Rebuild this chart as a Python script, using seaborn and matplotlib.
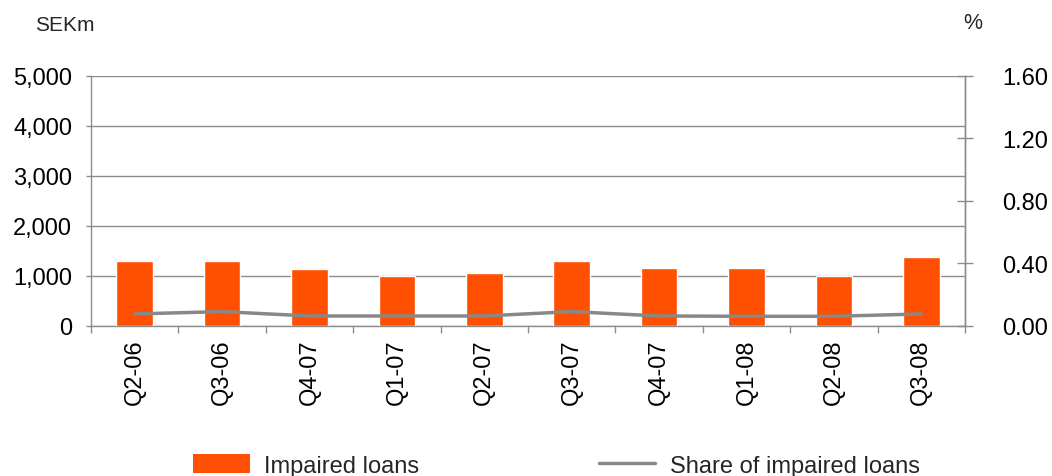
import numpy as np
import pandas as pd
import seaborn as sns
import matplotlib.pyplot as plt
from matplotlib.ticker import FuncFormatter, MultipleLocator, FixedLocator
from matplotlib.patches import Patch
from matplotlib.lines import Line2D

quarters = ["Q2-06", "Q3-06", "Q4-07", "Q1-07", "Q2-07",
            "Q3-07", "Q4-07", "Q1-08", "Q2-08", "Q3-08"]
impaired_loans = [1300, 1300, 1140, 1000, 1060, 1300, 1160, 1160, 1000, 1380]
share_impaired = [0.077, 0.092, 0.064, 0.064, 0.064, 0.092, 0.064, 0.062, 0.062, 0.077]

BAR_COLOR = "#FF4F00"
LINE_COLOR = "#888888"
AXIS_COLOR = "#8c8c8c"

sns.set_theme(style="white")
plt.rcParams["font.family"] = ["Liberation Sans", "DejaVu Sans"]

# quarter labels repeat (Q4-07 twice), so index positions are the categories
df = pd.DataFrame({
    "pos": np.arange(len(quarters)),
    "impaired": impaired_loans,
    "share": share_impaired,
})

fig = plt.figure(figsize=(10.52, 4.77), dpi=100)
ax = fig.add_axes([0.0865, 0.3145, 0.8308, 0.5241])

sns.barplot(data=df, x="pos", y="impaired", color=BAR_COLOR, width=0.42,
            saturation=1, ax=ax, zorder=3)
ax.set_xlim(-0.5, len(quarters) - 0.5)
ax.set_ylim(0, 5000)
ax.yaxis.set_major_locator(MultipleLocator(1000))
ax.yaxis.set_major_formatter(FuncFormatter(lambda v, p: f"{v:,.0f}"))
ax.grid(axis="y", color=AXIS_COLOR, linewidth=1, zorder=0)
ax.set_axisbelow(True)
ax.set_xlabel("")
ax.set_ylabel("")

ax.set_xticks(df["pos"])
ax.set_xticklabels(quarters, rotation=90)
ax.xaxis.set_minor_locator(FixedLocator(np.arange(len(quarters) + 1) - 0.5))
ax.tick_params(axis="x", which="major", length=0, pad=9, labelsize=17,
               colors="black")
ax.tick_params(axis="x", which="minor", length=5, width=1, color=AXIS_COLOR,
               bottom=True)
ax.tick_params(axis="y", left=True, length=3.6, width=1, color=AXIS_COLOR,
               pad=10, labelsize=17, labelcolor="black")

for side in ["left", "bottom", "right"]:
    ax.spines[side].set_color(AXIS_COLOR)
    ax.spines[side].set_linewidth(1)
ax.spines["top"].set_visible(False)

ax2 = ax.twinx()
sns.lineplot(data=df, x="pos", y="share", color=LINE_COLOR, linewidth=2.5,
             ax=ax2, zorder=4)
ax2.set_ylim(0, 1.6)
ax2.yaxis.set_major_locator(MultipleLocator(0.4))
ax2.yaxis.set_major_formatter(FuncFormatter(lambda v, p: f"{v:.2f}"))
ax2.tick_params(axis="y", right=True, direction="inout", length=11.5, width=1,
                color=AXIS_COLOR, pad=21, labelsize=17, labelcolor="black")
ax2.set_ylabel("")
ax2.set_xlabel("")
ax2.grid(False)
for side in ["left", "top", "bottom"]:
    ax2.spines[side].set_visible(False)
ax2.spines["right"].set_color(AXIS_COLOR)
ax2.spines["right"].set_linewidth(1)
ax.set_zorder(ax2.get_zorder() - 1)
ax.patch.set_visible(True)
ax2.patch.set_visible(False)

fig.text(0.033, 0.947, "SEKm", fontsize=15, va="center", ha="left")
fig.text(0.925, 0.951, "%", fontsize=15.5, va="center", ha="center")

handles = [
    Patch(facecolor=BAR_COLOR, edgecolor="none", label="Impaired loans"),
    Line2D([], [], color=LINE_COLOR, linewidth=2.5, label="Share of impaired loans"),
]
fig.legend(handles=handles, loc="center", bbox_to_anchor=(0.529, 0.023),
           ncol=2, frameon=False, fontsize=17, handlelength=2.4,
           handleheight=0.9, handletextpad=0.6, columnspacing=7.6)

fig.savefig("out.png", dpi=100)
